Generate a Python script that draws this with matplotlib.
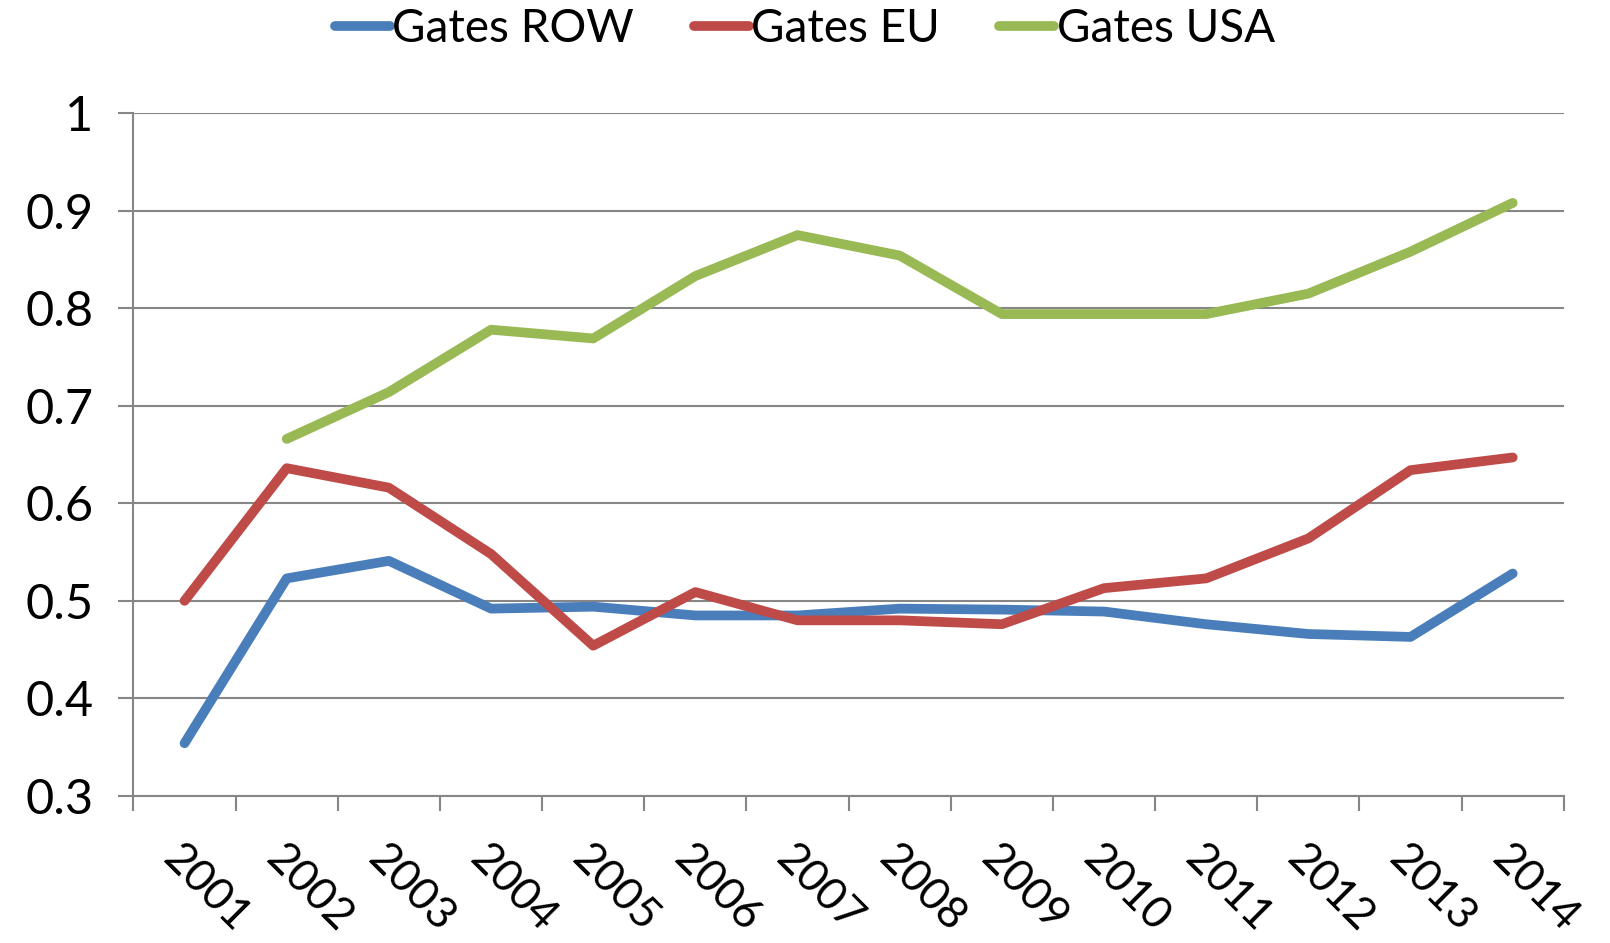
import numpy as np
import matplotlib.pyplot as plt
from matplotlib.ticker import FixedLocator

# ----- Datos -----

anios = ['2001', '2002', '2003', '2004', '2005', '2006', '2007',
         '2008', '2009', '2010', '2011', '2012', '2013', '2014']

gates_row = [0.354, 0.523, 0.541, 0.492, 0.494, 0.485, 0.485,
             0.492, 0.491, 0.489, 0.476, 0.466, 0.463, 0.528]
gates_eu = [0.500, 0.636, 0.616, 0.548, 0.454, 0.509, 0.480,
            0.480, 0.476, 0.513, 0.523, 0.564, 0.634, 0.647]
# 2001 sin dato para USA
gates_usa = [np.nan, 0.666, 0.714, 0.778, 0.769, 0.833, 0.875,
             0.854, 0.794, 0.794, 0.794, 0.815, 0.858, 0.908]

series = [('Gates ROW', gates_row, '#4A7EBB'),
          ('Gates EU', gates_eu, '#BE4B48'),
          ('Gates USA', gates_usa, '#98B954')]

# ----- Grafica -----

plt.rcParams['font.family'] = ['Lato', 'DejaVu Sans']
tam = 35

fig = plt.figure(figsize=(16.1, 9.43), dpi=100)
ax = fig.add_axes([0.0829, 0.156, 0.8884, 0.724])

x = np.arange(len(anios))
for nombre, valores, color in series:
    ax.plot(x, valores, color=color, lw=7, label=nombre,
            solid_capstyle='round', solid_joinstyle='round')

gris = '#868686'
ax.set_xlim(-0.5, len(anios) - 0.5)
ax.set_ylim(0.3, 1.0)
ax.set_yticks(np.arange(0.3, 1.01, 0.1))
ax.set_yticklabels(['0.3', '0.4', '0.5', '0.6', '0.7', '0.8', '0.9', '1'])
ax.yaxis.grid(True, color=gris, lw=1.5)
ax.set_axisbelow(True)

# marcas en los limites de cada categoria, etiquetas al centro
ax.xaxis.set_major_locator(FixedLocator(np.arange(-0.5, len(anios), 1.0)))
ax.xaxis.set_major_formatter(plt.NullFormatter())
ax.xaxis.set_minor_locator(FixedLocator(x))
ax.set_xticklabels(anios, minor=True, rotation=-45, ha='left', va='top',
                   rotation_mode='anchor')
ax.tick_params(axis='x', which='major', length=11, width=1.5, color=gris)
ax.tick_params(axis='x', which='minor', length=0, pad=30, labelsize=32)
ax.tick_params(axis='y', length=11, width=1.5, color=gris, labelsize=tam, pad=18)

for lado in ['top', 'right']:
    ax.spines[lado].set_visible(False)
for lado in ['left', 'bottom']:
    ax.spines[lado].set_color(gris)
    ax.spines[lado].set_linewidth(1.5)

leg = fig.legend(loc='upper center', bbox_to_anchor=(0.5, 1.035), ncol=3,
                 frameon=False, fontsize=33, handlelength=1.2,
                 handletextpad=0.05, columnspacing=1.3)

plt.savefig('out.png', dpi=100)
